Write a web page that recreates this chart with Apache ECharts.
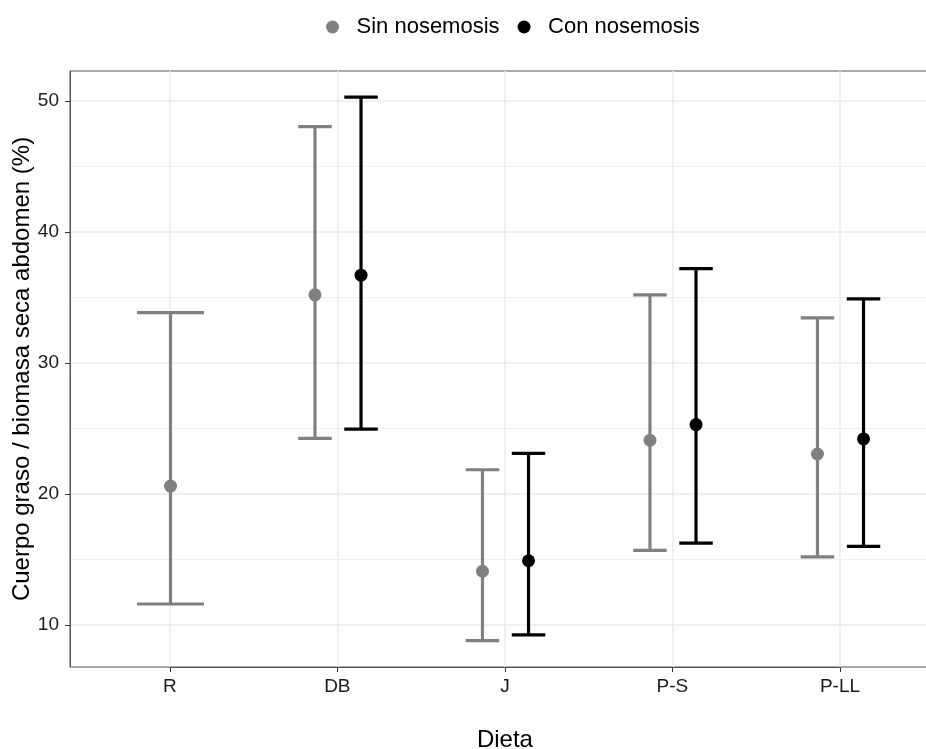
<!DOCTYPE html>
<html>
<head>
<meta charset="utf-8">
<script src="https://cdn.jsdelivr.net/npm/echarts@6/dist/echarts.min.js"></script>
<style>
html,body{margin:0;padding:0;background:#fff;}
#chart{width:926px;height:749px;}
</style>
</head>
<body>
<div id="chart"></div>
<script>
const categories = ['R', 'DB', 'J', 'P-S', 'P-LL'];
const seriesNames = ['Sin nosemosis', 'Con nosemosis'];
const sinMean = [20.6, 35.2, 14.1, 24.1, 23.05];
const sinLow  = [11.6, 24.25, 8.8, 15.7, 15.2];
const sinHigh = [33.85, 48.05, 21.85, 35.2, 33.45];
const conMean = [null, 36.7, 14.9, 25.3, 24.2];
const conLow  = [null, 24.95, 9.25, 16.25, 16.0];
const conHigh = [null, 50.3, 23.1, 37.2, 34.9];
const yTicks = [10, 20, 30, 40, 50];
const yMinorGrid = [15, 25, 35, 45];

const FONT = "'Liberation Sans', Arial, sans-serif";
const GREY = '#808080';
const BLACK = '#000000';
const DODGE = 0.1375;
const BARW_SINGLE = 0.4;
const BARW_DODGED = 0.2;

function xPos(i, group) {
  const single = conMean[i] == null;
  if (single) return i + 1;
  return i + 1 + (group === 0 ? -DODGE : DODGE);
}
function barWidth(i) { return conMean[i] == null ? BARW_SINGLE : BARW_DODGED; }

function buildBars(low, high, group) {
  const out = [];
  categories.forEach((c, i) => {
    if (low[i] == null) return;
    out.push([xPos(i, group), low[i], high[i], barWidth(i)]);
  });
  return out;
}
function buildPoints(mean, group) {
  const out = [];
  categories.forEach((c, i) => {
    if (mean[i] == null) return;
    out.push([xPos(i, group), mean[i]]);
  });
  return out;
}

function makeRender(color) {
  return function (params, api) {
    const x = api.value(0), lo = api.value(1), hi = api.value(2), w = api.value(3);
    const pLo = api.coord([x, lo]);
    const pHi = api.coord([x, hi]);
    const half = api.coord([x + w / 2, lo])[0] - pLo[0];
    const st = { stroke: color, lineWidth: 3.2, fill: null, lineCap: 'butt' };
    return {
      type: 'group',
      children: [
        { type: 'line', shape: { x1: pLo[0], y1: pLo[1], x2: pHi[0], y2: pHi[1] }, style: st },
        { type: 'line', shape: { x1: pHi[0] - half, y1: pHi[1], x2: pHi[0] + half, y2: pHi[1] }, style: st },
        { type: 'line', shape: { x1: pLo[0] - half, y1: pLo[1], x2: pLo[0] + half, y2: pLo[1] }, style: st }
      ]
    };
  };
}

const gridLines = yTicks.map(v => ({ yAxis: v, lineStyle: { color: '#EBEBEB', width: 1.5, type: 'solid' } }))
  .concat(yMinorGrid.map(v => ({ yAxis: v, lineStyle: { color: '#EFEFEF', width: 1, type: 'solid' } })));

const chart = echarts.init(document.getElementById('chart'), null, { renderer: 'canvas' });
chart.setOption({
  animation: false,
  backgroundColor: '#ffffff',
  textStyle: { fontFamily: FONT },
  legend: {
    left: 321, top: 11,
    itemWidth: 38, itemHeight: 13, itemGap: 18,
    icon: 'circle',
    data: seriesNames,
    textStyle: { fontSize: 22, color: '#000', fontFamily: FONT }
  },
  grid: [
    { left: 70, right: -15, top: 71, bottom: 82, show: true, borderColor: '#555', borderWidth: 1,
      backgroundColor: 'transparent', outerBoundsMode: 'none', containLabel: false },
    { left: 169.8, right: 86, top: 71, bottom: 82, outerBoundsMode: 'none', containLabel: false }
  ],
  xAxis: [
    { type: 'value', gridIndex: 0, min: 0.4, max: 5.6, show: false, splitLine: { show: false } },
    {
      type: 'category', gridIndex: 1, data: categories, boundaryGap: false,
      axisLine: { show: true, lineStyle: { color: '#555', width: 1 } },
      axisTick: { show: true, length: 5, lineStyle: { color: '#333', width: 1 } },
      axisLabel: { fontSize: 19, color: '#1a1a1a', margin: 10, fontFamily: FONT },
      splitLine: { show: true, lineStyle: { color: '#EBEBEB', width: 1.5 } },
      name: 'Dieta', nameLocation: 'middle', nameGap: 61, nameMoveOverlap: false,
      nameTextStyle: { fontSize: 24, color: '#000', fontFamily: FONT }
    }
  ],
  yAxis: [
    {
      type: 'value', gridIndex: 0, min: 6.79, max: 52.29,
      axisLine: { show: true, lineStyle: { color: '#555', width: 1 } },
      axisTick: { show: true, length: 5, customValues: yTicks, lineStyle: { color: '#333', width: 1 } },
      axisLabel: {
        customValues: yTicks, fontSize: 19, color: '#1a1a1a', margin: 11, fontFamily: FONT,
        formatter: v => (yTicks.indexOf(Math.round(v * 100) / 100) >= 0 ? String(v) : '')
      },
      splitLine: { show: false },
      name: 'Cuerpo graso / biomasa seca abdomen (%)', nameLocation: 'middle', nameGap: 36,
      nameMoveOverlap: false,
      nameTextStyle: { fontSize: 24, color: '#000', fontFamily: FONT }
    },
    { type: 'value', gridIndex: 1, min: 6.79, max: 52.29, show: false, splitLine: { show: false } }
  ],
  series: [
    {
      name: seriesNames[0], type: 'scatter', xAxisIndex: 0, yAxisIndex: 0,
      data: buildPoints(sinMean, 0), symbol: 'circle', symbolSize: 13,
      itemStyle: { color: GREY, opacity: 1 }, z: 5,
      markLine: { silent: true, symbol: 'none', label: { show: false }, data: gridLines, z: 0, animation: false }
    },
    {
      name: seriesNames[1], type: 'scatter', xAxisIndex: 0, yAxisIndex: 0,
      data: buildPoints(conMean, 1), symbol: 'circle', symbolSize: 13,
      itemStyle: { color: BLACK, opacity: 1 }, z: 5
    },
    {
      name: seriesNames[0], type: 'custom', xAxisIndex: 0, yAxisIndex: 0,
      renderItem: makeRender(GREY), data: buildBars(sinLow, sinHigh, 0),
      itemStyle: { color: GREY }, z: 3, encode: { x: 0, y: [1, 2] }
    },
    {
      name: seriesNames[1], type: 'custom', xAxisIndex: 0, yAxisIndex: 0,
      renderItem: makeRender(BLACK), data: buildBars(conLow, conHigh, 1),
      itemStyle: { color: BLACK }, z: 3, encode: { x: 0, y: [1, 2] }
    }
  ]
});
</script>
</body>
</html>
